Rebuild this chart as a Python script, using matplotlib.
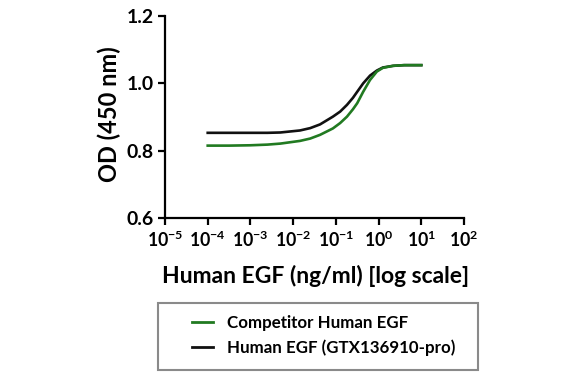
import numpy as np
import matplotlib
matplotlib.use("Agg")
import matplotlib.pyplot as plt
from matplotlib.patches import Rectangle

# Data (log10 of concentration in ng/ml, OD at 450 nm)
log_conc = [-4, -3.5, -3, -2.6, -2.3, -1.84, -1.6, -1.37, -1.07, -0.9, -0.74, -0.6,
            -0.5, -0.36, -0.2, -0.04, 0.1, 0.34, 0.6, 1]
od_competitor = [0.815, 0.815, 0.816, 0.818, 0.821, 0.829, 0.836, 0.847, 0.866, 0.882,
                 0.901, 0.923, 0.941, 0.975, 1.010, 1.035, 1.046, 1.052, 1.054, 1.054]
od_gtx = [0.853, 0.853, 0.853, 0.853, 0.854, 0.860, 0.867, 0.878, 0.901, 0.916,
          0.936, 0.957, 0.975, 1.000, 1.023, 1.038, 1.047, 1.052, 1.054, 1.054]
conc = [10.0 ** v for v in log_conc]

series_labels = ["Competitor Human EGF", "Human EGF (GTX136910-pro)"]
series_colors = ["#217a21", "#111111"]
x_tick_exps = [-5, -4, -3, -2, -1, 0, 1, 2]
y_ticks = [0.6, 0.8, 1.0, 1.2]
x_title = 'Human EGF (ng/ml) [log scale]'
y_title = 'OD (450 nm)'

plt.rcParams['font.family'] = ['Lato', 'DejaVu Sans']
plt.rcParams['mathtext.fontset'] = 'custom'
plt.rcParams['mathtext.rm'] = 'Lato'
plt.rcParams['mathtext.bf'] = 'Lato:bold'
plt.rcParams['mathtext.default'] = 'bf'

fig = plt.figure(figsize=(5.82, 3.78), dpi=100)
W, H = 582, 378


def fit_size(s, target_px, weight='bold'):
    # font size (pt) that makes string s about target_px wide
    t = fig.text(0, 0, s, fontsize=10, fontweight=weight)
    w = t.get_window_extent(fig.canvas.get_renderer()).width
    t.remove()
    return 10 * target_px / w


fs_xlab = fit_size(x_title, 308)
fs_ylab = fit_size(y_title, 136)
fs_leg = fit_size(series_labels[1], 228)
fs_ytick = fit_size('1.2', 27)
fs_xtick = fit_size('10', 20.5)

ax = fig.add_axes([165 / W, 1 - 218 / H, 299 / W, 202 / H])

# green drawn on top, as in the reference
ax.plot(conc, od_competitor, color=series_colors[0], lw=1.9, label=series_labels[0],
        zorder=3, solid_joinstyle='round')
ax.plot(conc, od_gtx, color=series_colors[1], lw=1.9, label=series_labels[1],
        zorder=2, solid_joinstyle='round')

ax.set_xscale('log')
ax.set_xlim(1e-5, 1e2)
ax.set_ylim(0.6, 1.2)
ax.set_xticks([10.0 ** e for e in x_tick_exps])
ax.set_xticklabels(['$10^{%d}$' % e for e in x_tick_exps])
ax.minorticks_off()
ax.set_yticks(y_ticks)
ax.set_yticklabels(['%.1f' % v for v in y_ticks])

for s in ['top', 'right']:
    ax.spines[s].set_visible(False)
for s in ['left', 'bottom']:
    ax.spines[s].set_linewidth(1.6)
ax.tick_params(direction='out', length=5, width=1.6, pad=3)
ax.tick_params(axis='x', labelsize=fs_xtick)
ax.tick_params(axis='y', labelsize=fs_ytick)
for lab in ax.get_yticklabels():
    lab.set_fontweight('bold')

ax.set_xlabel(x_title, fontsize=fs_xlab, fontweight='bold')
ax.xaxis.set_label_coords((316 - 165) / 299, -(265 - 218) / 202)
ax.set_ylabel(y_title, fontsize=fs_ylab, fontweight='bold')
ax.yaxis.set_label_coords((121 - 165) / 299, (218 - 114) / 202)

fs_px = fs_leg * 100 / 72
leg = fig.legend(loc='center left', bbox_to_anchor=(192 / W, 1 - 335.5 / H),
                 frameon=False, borderpad=0, borderaxespad=0,
                 handlelength=21 / fs_px, handletextpad=14 / fs_px,
                 labelspacing=(25 - fs_px) / fs_px,
                 prop={'weight': 'bold', 'size': fs_leg})
for line in leg.get_lines():
    line.set_linewidth(2.0)

fig.add_artist(Rectangle((158 / W, 1 - 370 / H), 320 / W, 67 / H, transform=fig.transFigure,
                         fill=False, edgecolor='#8a8a8a', linewidth=1.5))

fig.savefig('out.png', dpi=100)
